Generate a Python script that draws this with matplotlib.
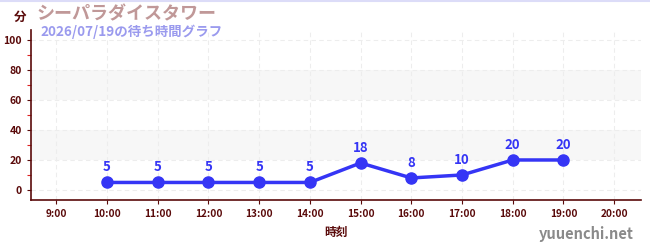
import matplotlib
matplotlib.use("Agg")
import matplotlib.pyplot as plt
from matplotlib.ticker import MultipleLocator

plt.rcParams['font.family'] = ['Noto Sans CJK JP', 'DejaVu Sans']

hours = [10, 11, 12, 13, 14, 15, 16, 17, 18, 19]
waits = [5, 5, 5, 5, 5, 18, 8, 10, 20, 20]
xticks = list(range(9, 21))
xticklabels = [f"{h}:00" for h in xticks]
yticks = [0, 20, 40, 60, 80, 100]
title = "シーパラダイスタワー"
subtitle = "2026/07/19の待ち時間グラフ"

fig = plt.figure(figsize=(6.5, 2.5), dpi=100)
ax = fig.add_axes([31/650, 50/250, 610/650, 170/250])
ax.set_xlim(8.5, 20.53)
ax.set_ylim(-6.7, 106.7)

for lo, hi in [(20, 40), (60, 80)]:
    ax.axhspan(lo, hi, color='#f7f7f7', zorder=0, lw=0)

ax.grid(True, color='#ededed', linestyle=(0, (4, 3)), linewidth=0.8, zorder=1)
ax.set_axisbelow(True)

line_c = '#3535f5'
ax.plot(hours, waits, color=line_c, lw=2.5, marker='o', markersize=8, zorder=3)
for h, w in zip(hours, waits):
    ax.annotate(str(w), (h, w), xytext=(0, 6), textcoords='offset points',
                ha='center', va='bottom', color=line_c, fontsize=9.5, fontweight='bold')

dark = '#5a0a0a'
ax.set_xticks(xticks)
ax.set_xticklabels(xticklabels)
ax.set_yticks(yticks)
ax.yaxis.set_minor_locator(MultipleLocator(10))
ax.tick_params(axis='both', colors=dark, labelsize=7.5, length=3, width=0.8)
ax.tick_params(axis='y', which='minor', colors='#dd2222', length=3, width=0.8)
ax.tick_params(axis='x', labelsize=7.3)
for lbl in ax.get_xticklabels() + ax.get_yticklabels():
    lbl.set_fontweight('bold')
    lbl.set_color(dark)
for s in ['top', 'right']:
    ax.spines[s].set_visible(False)
for s in ['left', 'bottom']:
    ax.spines[s].set_color(dark)
    ax.spines[s].set_linewidth(1.2)

ax.set_xlabel("時刻", color=dark, fontsize=8.5, fontweight='bold', labelpad=5)

fig.text(14/650, 1 - 17/250, "分", color=dark, fontsize=9, fontweight='bold', va='center', ha='left')
fig.text(37/650, 1 - 14/250, title, color='#c09898', fontsize=13, fontweight='bold', va='center', ha='left')
fig.text(40/650, 1 - 32/250, subtitle, color='#9a9aee', fontsize=9.7, fontweight='bold', va='center', ha='left')
fig.text(634/650, 1 - 234/250, "yuuenchi.net", color='#8a8a8a', fontsize=10.5, fontweight='bold', va='center', ha='right')

fig.add_artist(plt.Line2D([0, 1], [1 - 0.5/250, 1 - 0.5/250], color='#dcdcf8', lw=1.5, transform=fig.transFigure))

fig.savefig("out.png", dpi=100)
